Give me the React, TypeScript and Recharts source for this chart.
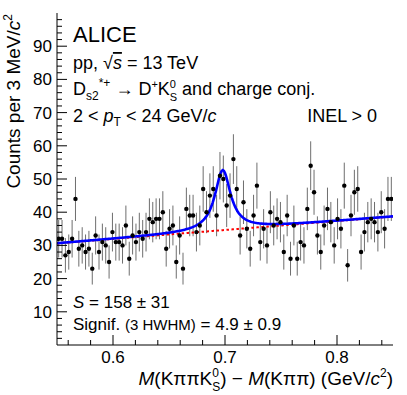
import { ComposedChart, Scatter, Line, XAxis, YAxis, ErrorBar } from "recharts";

// histogram: 3 MeV bins from 0.55 to 0.85 GeV/c^2
const MASS_LOW = 0.55;
const MASS_HIGH = 0.85;
const BIN_WIDTH = 0.003;
const COUNTS = [
  32, 32, 27, 28, 32, 44, 29, 30, 28, 29,
  23, 33, 28, 31, 30, 25, 34, 31, 31, 30,
  36, 26, 33, 31, 34, 32, 34, 38, 37, 38,
  38, 40, 29, 35, 36, 25, 33, 23, 41, 39,
  39, 34, 36, 47, 40, 45, 47, 39, 51, 50,
  42, 45, 56, 47, 33, 43, 35, 29, 39, 48,
  31, 35, 30, 40, 36, 38, 37, 28, 39, 26,
  36, 26, 31, 30, 41, 54, 46, 33, 28, 36,
  41, 37, 30, 38, 35, 48, 24, 39, 46, 47,
  28, 34, 37, 38, 37, 34, 40, 35, 44, 44,
];

// fit: linear background + Breit-Wigner peak
const BG_AT_LOW = 30.6;
const BG_SLOPE = 27;
const PEAK_AMP = 18.1;
const PEAK_MEAN = 0.698;
const PEAK_HWHM = 0.0085;
const FIT_STEP = 0.001;

const X_TICKS = [0.56, 0.58, 0.6, 0.62, 0.64, 0.66, 0.68, 0.7, 0.72, 0.74, 0.76, 0.78, 0.8, 0.82, 0.84];
const X_LABELS = [0.6, 0.7, 0.8];
const Y_TICKS = [
  2, 4, 6, 8, 10, 12, 14, 16, 18, 20, 22, 24, 26, 28, 30, 32, 34, 36, 38, 40, 42, 44, 46, 48, 50,
  52, 54, 56, 58, 60, 62, 64, 66, 68, 70, 72, 74, 76, 78, 80, 82, 84, 86, 88, 90, 92, 94, 96, 98,
];
const Y_LABELS = [10, 20, 30, 40, 50, 60, 70, 80, 90];

const FONT = '"Liberation Sans", Arial, Helvetica, sans-serif';

const points = COUNTS.map((n, i) => ({
  x: MASS_LOW + BIN_WIDTH * (i + 0.5),
  y: n,
  err: Math.sqrt(n),
}));

const background = (m: number) => BG_AT_LOW + BG_SLOPE * (m - MASS_LOW);
const total = (m: number) =>
  background(m) + (PEAK_AMP * PEAK_HWHM * PEAK_HWHM) / ((m - PEAK_MEAN) ** 2 + PEAK_HWHM * PEAK_HWHM);

const fitGrid = Array.from({ length: Math.round((MASS_HIGH - MASS_LOW) / FIT_STEP) + 1 }, (_, i) => MASS_LOW + i * FIT_STEP);
const totalCurve = fitGrid.map((m) => ({ x: m, y: total(m) }));
const bgCurve = fitGrid.map((m) => ({ x: m, y: background(m) }));

const near = (a: number, list: number[]) => list.some((b) => Math.abs(a - b) < 1e-6);

function BottomTick({ x, y, payload }: any) {
  const major = near(payload.value, X_LABELS);
  return (
    <g>
      <line x1={x} x2={x} y1={y} y2={y - (major ? 10 : 5)} stroke="#000" />
      {major && (
        <text x={x} y={y + 18} textAnchor="middle" fontSize={17} fontFamily={FONT} fill="#000">
          {payload.value.toFixed(1)}
        </text>
      )}
    </g>
  );
}

function TopTick({ x, y, payload }: any) {
  const major = near(payload.value, X_LABELS);
  return <line x1={x} x2={x} y1={y} y2={y + (major ? 10 : 5)} stroke="#000" />;
}

function LeftTick({ x, y, payload }: any) {
  const major = near(payload.value, Y_LABELS);
  return (
    <g>
      <line x1={x} x2={x + (major ? 10 : 5)} y1={y} y2={y} stroke="#000" />
      {major && (
        <text x={x - 5} y={y + 6} textAnchor="end" fontSize={17} fontFamily={FONT} fill="#000">
          {payload.value}
        </text>
      )}
    </g>
  );
}

function RightTick({ x, y, payload }: any) {
  const major = near(payload.value, Y_LABELS);
  return <line x1={x} x2={x - (major ? 10 : 5)} y1={y} y2={y} stroke="#000" />;
}

const Dot = (props: any) => <circle cx={props.cx} cy={props.cy} r={2.2} fill="#000" />;

function Labels() {
  return (
    <svg
      width={407}
      height={395}
      style={{ position: "absolute", left: 0, top: 0, pointerEvents: "none" }}
      fontFamily={FONT}
      fill="#000"
    >
      <text x={73} y={42} fontSize={22}>ALICE</text>
      <text x={73} y={69} fontSize={18}>
        pp, √<tspan fontStyle="italic" textDecoration="overline">s</tspan> = 13 TeV
      </text>
      <text x={73} y={95} fontSize={18}>
        D<tspan fontSize={12} dy={5}>s2</tspan>
        <tspan fontSize={12} dy={-13}>*+</tspan>
        <tspan dy={8}> → D</tspan>
        <tspan fontSize={11} dy={-7}>+</tspan>
        <tspan dy={7}>K</tspan>
        <tspan fontSize={11} dy={-7}>0</tspan>
        <tspan fontSize={11} dx={-6.2} dy={13}>S</tspan>
        <tspan dy={-6}> and charge conj.</tspan>
      </text>
      <text x={73} y={122} fontSize={18}>
        2 &lt; <tspan fontStyle="italic">p</tspan>
        <tspan fontSize={12} dy={4}>T</tspan>
        <tspan dy={-4}> &lt; 24 GeV/</tspan>
        <tspan fontStyle="italic">c</tspan>
      </text>
      <text x={377} y={122} fontSize={18} textAnchor="end">INEL &gt; 0</text>
      <text x={73} y={308} fontSize={17}>
        <tspan fontStyle="italic">S</tspan> = 158 ± 31
      </text>
      <text x={73} y={330} fontSize={17}>
        Signif. <tspan fontSize={15}>(3 HWHM)</tspan> = 4.9 ± 0.9
      </text>
      <text x={393} y={385} fontSize={19} textAnchor="end">
        <tspan fontStyle="italic">M</tspan>(KππK
        <tspan fontSize={12} dy={-8}>0</tspan>
        <tspan fontSize={12} dx={-6.7} dy={14}>S</tspan>
        <tspan dy={-6}>) − </tspan>
        <tspan fontStyle="italic">M</tspan>(Kππ) (GeV/
        <tspan fontStyle="italic">c</tspan>
        <tspan fontSize={12} dy={-8}>2</tspan>
        <tspan dy={8}>)</tspan>
      </text>
      <text transform="translate(20,14) rotate(-90)" fontSize={19} textAnchor="end">
        Counts per 3 MeV/<tspan fontStyle="italic">c</tspan>
        <tspan fontSize={12} dy={-8}>2</tspan>
      </text>
    </svg>
  );
}

export default function App() {
  return (
    <div style={{ position: "absolute", left: 0, top: 0, width: 407, height: 395, background: "#fff" }}>
      <ComposedChart width={407} height={395} margin={{ top: 13, right: 14, bottom: 0, left: 0 }}>
        <XAxis
          xAxisId="b"
          dataKey="x"
          type="number"
          domain={[MASS_LOW, MASS_HIGH]}
          allowDataOverflow
          ticks={X_TICKS}
          interval={0}
          height={50}
          tickSize={0}
          tickMargin={0}
          tickLine={false}
          axisLine={{ stroke: "#000" }}
          tick={<BottomTick />}
        />
        <XAxis
          xAxisId="t"
          orientation="top"
          dataKey="x"
          type="number"
          domain={[MASS_LOW, MASS_HIGH]}
          allowDataOverflow
          ticks={X_TICKS}
          interval={0}
          height={0}
          tickSize={0}
          tickMargin={0}
          tickLine={false}
          axisLine={{ stroke: "#000" }}
          tick={<TopTick />}
        />
        <YAxis
          yAxisId="l"
          type="number"
          domain={[0, 100]}
          allowDataOverflow
          ticks={Y_TICKS}
          interval={0}
          width={57}
          tickSize={0}
          tickMargin={0}
          tickLine={false}
          axisLine={{ stroke: "#000" }}
          tick={<LeftTick />}
        />
        <YAxis
          yAxisId="r"
          orientation="right"
          type="number"
          domain={[0, 100]}
          allowDataOverflow
          ticks={Y_TICKS}
          interval={0}
          width={0}
          tickSize={0}
          tickMargin={0}
          tickLine={false}
          axisLine={{ stroke: "#000" }}
          tick={<RightTick />}
        />
        <Scatter
          xAxisId="b"
          yAxisId="l"
          data={points}
          dataKey="y"
          shape={Dot}
          isAnimationActive={false}
        >
          <ErrorBar dataKey="err" direction="y" width={0} stroke="#6e6e6e" strokeWidth={1} />
        </Scatter>
        <Line
          xAxisId="t"
          yAxisId="r"
          data={bgCurve}
          dataKey="y"
          type="linear"
          stroke="#ff0000"
          strokeWidth={2}
          strokeDasharray="2.5 2.5"
          dot={false}
          isAnimationActive={false}
        />
        <Line
          xAxisId="b"
          yAxisId="l"
          data={totalCurve}
          dataKey="y"
          type="linear"
          stroke="#0000ff"
          strokeWidth={2.6}
          dot={false}
          isAnimationActive={false}
        />
      </ComposedChart>
      <Labels />
    </div>
  );
}
